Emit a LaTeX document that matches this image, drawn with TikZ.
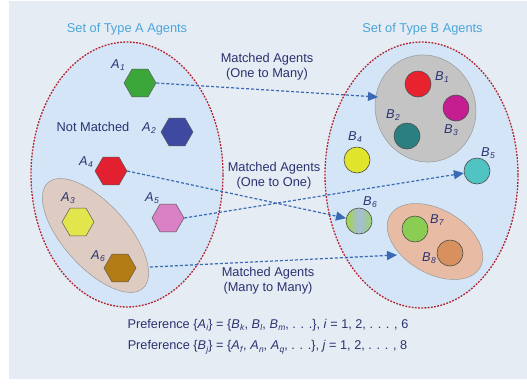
\documentclass[tikz,border=0pt]{standalone}
\usepackage{fontspec}
\setmainfont{Liberation Sans}
\usetikzlibrary{shapes.geometric,arrows.meta}
\definecolor{bgc}{HTML}{E6ECF4}
\definecolor{ellc}{HTML}{D3E5F6}
\definecolor{dred}{HTML}{B3222E}
\definecolor{txt}{HTML}{2A3270}
\definecolor{ttlc}{HTML}{4AA6DA}
\definecolor{arrc}{HTML}{3A6AB4}
\definecolor{cA1}{HTML}{3BA73B}
\definecolor{cA2}{HTML}{3E49A2}
\definecolor{cA3}{HTML}{E2E64C}
\definecolor{cA4}{HTML}{E2202F}
\definecolor{cA5}{HTML}{DA80C4}
\definecolor{cA6}{HTML}{B47C14}
\definecolor{tanc}{HTML}{DECBC1}
\definecolor{grayc}{HTML}{C4C4C4}
\definecolor{salc}{HTML}{E8BBA4}
\definecolor{cB1}{HTML}{E8232F}
\definecolor{cB2}{HTML}{2A8080}
\definecolor{cB3}{HTML}{C41E90}
\definecolor{cB4}{HTML}{E0E42A}
\definecolor{cB5}{HTML}{50C4C2}
\definecolor{cB7}{HTML}{8ACD52}
\definecolor{cB8}{HTML}{D8905E}
\newcommand\sbs[1]{\raisebox{-0.4ex}{\fontsize{8.5}{9}\selectfont\textit{#1}}}
\newcommand\ag[2]{\textit{#1}\kern0.02em\sbs{#2}}
\begin{document}
\begin{tikzpicture}[x=1pt,y=-1pt,
  setbig/.style={ellipse, draw=dred, fill=ellc, line width=1.3pt, dash pattern=on 1.8pt off 1.4pt, inner sep=0},
  hexa/.style={regular polygon, regular polygon sides=6, minimum size=32pt, inner sep=0, draw=black!65, line width=0.5pt},
  ball/.style={circle, minimum size=26pt, inner sep=0, draw=black!70, line width=0.6pt},
  grp/.style={ellipse, inner sep=0, draw=black!40, line width=0.5pt},
  lbl/.style={text=txt, font=\fontsize{12.8}{15}\selectfont, inner sep=0},
  mlbl/.style={lbl, align=center},
  ttl/.style={text=ttlc, font=\fontsize{12.8}{15}\selectfont, inner sep=0},
  arr/.style={draw=arrc, line width=1.2pt, dash pattern=on 3pt off 2pt, -{Triangle[length=10pt,width=9pt]}}
]
\useasboundingbox (0,0) rectangle (527,384);
\fill[bgc] (9,1) rectangle (527,379);

% big sets
\node[setbig, minimum width=192pt, minimum height=265pt] (SA) at (127,174.5) {};
\node[setbig, minimum width=193pt, minimum height=266pt] (SB) at (421.5,175) {};
\node[ttl] (TA) at (127,29) {Set of Type A Agents};
\node[ttl] (TB) at (422.5,29) {Set of Type B Agents};

% groups
\node[grp, fill=tanc, minimum width=142pt, minimum height=64pt, rotate=-48] (G3) at (95.5,235.5) {};
\node[grp, fill=grayc, minimum width=108pt, minimum height=100pt, rotate=-70] (G1) at (425.5,108.5) {};
\node[grp, fill=salc, minimum width=104pt, minimum height=64pt, rotate=-30] (G2) at (435,241.5) {};

% type A agents
\node[hexa, fill=cA1] (A1) at (140,83) {};
\node[hexa, fill=cA2] (A2) at (177,132) {};
\node[hexa, fill=cA4] (A4) at (111,171) {};
\node[hexa, fill=cA3] (A3) at (78,222) {};
\node[hexa, fill=cA5] (A5) at (168,218) {};
\node[hexa, fill=cA6] (A6) at (120,268) {};
\node[lbl] (LA1) at (118,65) {\ag{A}{1}};
\node[lbl] (LA2) at (149,128) {\ag{A}{2}};
\node[lbl] (LA4) at (86,162) {\ag{A}{4}};
\node[lbl] (LA3) at (68,198) {\ag{A}{3}};
\node[lbl] (LA5) at (152,198) {\ag{A}{5}};
\node[lbl] (LA6) at (98,256) {\ag{A}{6}};
\node[lbl] (NM) at (93,127) {Not Matched};

% type B agents
\node[ball, fill=cB1] (B1) at (418,84) {};
\node[ball, fill=cB3] (B3) at (456,108) {};
\node[ball, fill=cB2] (B2) at (407,136) {};
\node[ball, fill=cB4] (B4) at (357,160) {};
\node[ball, fill=cB5] (B5) at (477,171) {};
\node[ball, left color=cB7!80!yellow, right color=cB7!85!white, middle color=arrc!45!white] (B6) at (359,221) {};
\node[ball, fill=cB7] (B7) at (415,229) {};
\node[ball, fill=cB8] (B8) at (450,253) {};
\node[lbl] (LB1) at (442,77) {\ag{B}{1}};
\node[lbl] (LB2) at (393,115) {\ag{B}{2}};
\node[lbl] (LB3) at (451,130) {\ag{B}{3}};
\node[lbl] (LB4) at (355,137) {\ag{B}{4}};
\node[lbl] (LB5) at (488,153) {\ag{B}{5}};
\node[lbl] (LB6) at (370,202) {\ag{B}{6}};
\node[lbl] (LB7) at (437,220) {\ag{B}{7}};
\node[lbl] (LB8) at (429,258) {\ag{B}{8}};

% connectors
\coordinate (s4) at (150,267);
\coordinate (t4) at (397,255);
\coordinate (t1) at (378,97);
\draw[arr] (A1.east) -- (t1);
\draw[arr] (A4.east) -- (B6);
\draw[arr] (A5.east) -- (B5);
\draw[arr] (s4) -- (t4);

\node[mlbl] (M1) at (267,67) {Matched Agents\\(One to Many)};
\node[mlbl] (M2) at (274,175.5) {Matched Agents\\(One to One)};
\node[mlbl] (M3) at (268,280.5) {Matched Agents\\(Many to Many)};

\node[lbl, font=\fontsize{12.7}{14}\selectfont] (P1) at (268,325) {Preference \{\ag{A}{i}\} = \{\ag{B}{k}, \ag{B}{l}, \ag{B}{m}, . . .\}, \textit{i} = 1, 2, . . . , 6};
\node[lbl, font=\fontsize{12.7}{14}\selectfont] (P2) at (267.5,347) {Preference \{\ag{B}{j}\} = \{\ag{A}{f}, \ag{A}{n}, \ag{A}{q}, . . .\}, \textit{j} = 1, 2, . . . , 8};
\end{tikzpicture}
\end{document}
